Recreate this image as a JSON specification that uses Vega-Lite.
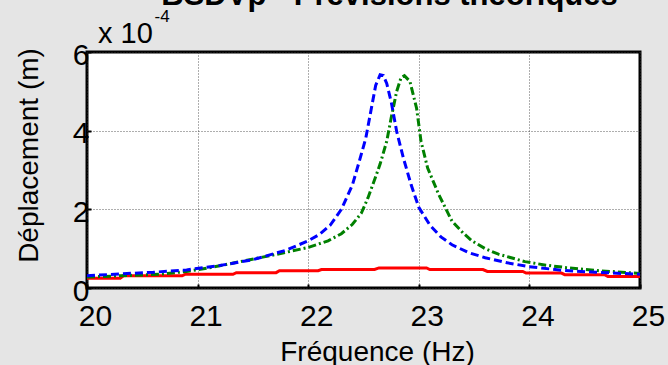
{
  "$schema": "https://vega.github.io/schema/vega-lite/v6.json",
  "autosize": {"type": "none"},
  "padding": {"left": 87, "top": 52, "right": 28, "bottom": 77},
  "width": 553,
  "height": 236,
  "background": "#e5e5e5",
  "title": {
    "text": "BSDVp - Prévisions théoriques",
    "font": "Liberation Sans",
    "fontSize": 31,
    "fontWeight": "bold",
    "color": "black",
    "anchor": "middle",
    "baseline": "alphabetic",
    "offset": -28,
    "dx": 26
  },
  "config": {
    "view": {"stroke": "black", "strokeWidth": 3, "fill": "white"},
    "font": "Liberation Sans"
  },
  "datasets": {
    "blue": [
      {"f": 20.0, "v": 0.31}, {"f": 20.3, "v": 0.36}, {"f": 20.6, "v": 0.4}, {"f": 20.9, "v": 0.46},
      {"f": 21.2, "v": 0.57}, {"f": 21.5, "v": 0.72}, {"f": 21.8, "v": 0.96}, {"f": 22.0, "v": 1.2},
      {"f": 22.1, "v": 1.36}, {"f": 22.2, "v": 1.6}, {"f": 22.3, "v": 2.0}, {"f": 22.4, "v": 2.62},
      {"f": 22.47, "v": 3.3}, {"f": 22.52, "v": 3.8}, {"f": 22.57, "v": 4.55}, {"f": 22.61, "v": 5.15},
      {"f": 22.65, "v": 5.42}, {"f": 22.68, "v": 5.4}, {"f": 22.71, "v": 5.2}, {"f": 22.75, "v": 4.74},
      {"f": 22.8, "v": 3.98}, {"f": 22.86, "v": 3.31}, {"f": 22.93, "v": 2.63}, {"f": 23.0, "v": 2.05},
      {"f": 23.1, "v": 1.6}, {"f": 23.2, "v": 1.3}, {"f": 23.3, "v": 1.1}, {"f": 23.45, "v": 0.9},
      {"f": 23.6, "v": 0.77}, {"f": 23.8, "v": 0.64}, {"f": 24.0, "v": 0.54}, {"f": 24.3, "v": 0.45},
      {"f": 24.6, "v": 0.4}, {"f": 25.0, "v": 0.35}
    ],
    "green": [
      {"f": 20.0, "v": 0.28}, {"f": 20.3, "v": 0.31}, {"f": 20.66, "v": 0.35}, {"f": 20.9, "v": 0.42},
      {"f": 21.12, "v": 0.52}, {"f": 21.42, "v": 0.69}, {"f": 21.72, "v": 0.86}, {"f": 22.0, "v": 1.03},
      {"f": 22.18, "v": 1.2}, {"f": 22.3, "v": 1.38}, {"f": 22.4, "v": 1.62}, {"f": 22.48, "v": 1.9},
      {"f": 22.54, "v": 2.29}, {"f": 22.6, "v": 2.75}, {"f": 22.65, "v": 3.15}, {"f": 22.71, "v": 3.73},
      {"f": 22.75, "v": 4.32}, {"f": 22.8, "v": 5.0}, {"f": 22.84, "v": 5.35}, {"f": 22.87, "v": 5.4},
      {"f": 22.92, "v": 5.25}, {"f": 22.98, "v": 4.57}, {"f": 23.02, "v": 3.73}, {"f": 23.08, "v": 3.05},
      {"f": 23.18, "v": 2.38}, {"f": 23.3, "v": 1.7}, {"f": 23.4, "v": 1.4}, {"f": 23.48, "v": 1.2},
      {"f": 23.6, "v": 1.0}, {"f": 23.72, "v": 0.86}, {"f": 23.96, "v": 0.67}, {"f": 24.15, "v": 0.58},
      {"f": 24.33, "v": 0.52}, {"f": 24.63, "v": 0.44}, {"f": 25.0, "v": 0.37}
    ],
    "red": [
      {"f": 20.0, "v": 0.25}, {"f": 20.3, "v": 0.25}, {"f": 20.33, "v": 0.31}, {"f": 20.86, "v": 0.31},
      {"f": 20.89, "v": 0.35}, {"f": 21.32, "v": 0.35}, {"f": 21.35, "v": 0.39}, {"f": 21.71, "v": 0.39},
      {"f": 21.74, "v": 0.44}, {"f": 22.09, "v": 0.44}, {"f": 22.12, "v": 0.47}, {"f": 22.6, "v": 0.47},
      {"f": 22.64, "v": 0.51}, {"f": 23.07, "v": 0.51}, {"f": 23.1, "v": 0.47}, {"f": 23.58, "v": 0.47},
      {"f": 23.62, "v": 0.42}, {"f": 23.94, "v": 0.42}, {"f": 23.97, "v": 0.38}, {"f": 24.29, "v": 0.38},
      {"f": 24.32, "v": 0.34}, {"f": 24.68, "v": 0.34}, {"f": 24.71, "v": 0.29}, {"f": 25.0, "v": 0.29}
    ],
    "notes": [
      {"f": 20.1, "v": 6, "t": "x 10", "k": "base"},
      {"f": 20.61, "v": 6, "t": "-4", "k": "exp"}
    ]
  },
  "encoding": {
    "x": {
      "field": "f", "type": "quantitative",
      "scale": {"domain": [20, 25], "nice": false, "zero": false},
      "axis": {
        "values": [20, 21, 22, 23, 24, 25],
        "title": "Fréquence (Hz)",
        "titleFont": "Liberation Sans", "titleFontSize": 28, "titleFontWeight": "normal", "titleColor": "black",
        "titleBaseline": "alphabetic", "titleX": 290, "titleY": 72, "titleAnchor": null,
        "labelFont": "Liberation Sans", "labelFontSize": 30, "labelColor": "black", "labelPadding": 17,
        "labelOffset": 8, "labelFlush": false, "labelOverlap": false,
        "domain": false, "tickSize": -4, "tickColor": "black", "tickWidth": 2,
        "grid": true, "gridColor": "#333", "gridDash": [1, 2], "gridWidth": 0.8, "gridOpacity": 1
      }
    },
    "y": {
      "field": "v", "type": "quantitative",
      "scale": {"domain": [0, 6], "nice": false},
      "axis": {
        "values": [0, 2, 4, 6],
        "title": "Déplacement (m)",
        "titleFont": "Liberation Sans", "titleFontSize": 28, "titleFontWeight": "normal", "titleColor": "black",
        "titleBaseline": "alphabetic", "titleX": -50, "titleY": 103, "titleAngle": -90, "titleAlign": "center",
        "labelFont": "Liberation Sans", "labelFontSize": 30, "labelColor": "black", "labelPadding": 2,
        "labelOffset": 3, "labelFlush": false, "labelOverlap": false,
        "domain": false, "tickSize": -4, "tickColor": "black", "tickWidth": 2,
        "grid": true, "gridColor": "#333", "gridDash": [1, 2], "gridWidth": 0.8, "gridOpacity": 1
      }
    }
  },
  "layer": [
    {
      "data": {"name": "red"},
      "mark": {"type": "line", "color": "#ff0000", "strokeWidth": 3}
    },
    {
      "data": {"name": "green"},
      "mark": {"type": "line", "color": "#008000", "strokeWidth": 3, "strokeDash": [8, 3, 2, 3]}
    },
    {
      "data": {"name": "blue"},
      "mark": {"type": "line", "color": "#0000ff", "strokeWidth": 3, "strokeDash": [8, 4]}
    },
    {
      "data": {"name": "notes"},
      "transform": [{"filter": "datum.k == 'base'"}],
      "mark": {"type": "text", "font": "Liberation Sans", "fontSize": 29, "color": "black", "align": "left", "baseline": "alphabetic", "dy": -9},
      "encoding": {"text": {"field": "t"}}
    },
    {
      "data": {"name": "notes"},
      "transform": [{"filter": "datum.k == 'exp'"}],
      "mark": {"type": "text", "font": "Liberation Sans", "fontSize": 17, "color": "black", "align": "left", "baseline": "alphabetic", "dy": -30},
      "encoding": {"text": {"field": "t"}}
    }
  ]
}
